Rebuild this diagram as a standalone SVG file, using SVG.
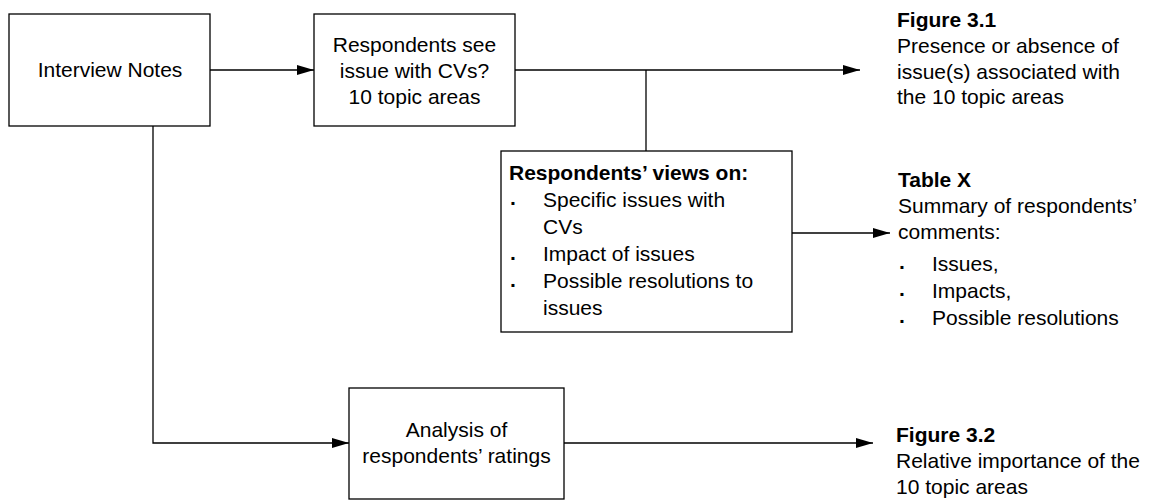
<svg xmlns="http://www.w3.org/2000/svg" width="1164" height="502" viewBox="0 0 1164 502">
<style>
text{font-family:"Liberation Sans",Arial,sans-serif;font-size:21px;fill:#000}
.b{font-weight:bold}
.c{text-anchor:middle}
.d{font-weight:bold}
.box{fill:#fff;stroke:#000;stroke-width:1.3}
.ln{fill:none;stroke:#000;stroke-width:1.3}
</style>
<defs>
<marker id="arr" markerUnits="userSpaceOnUse" markerWidth="18" markerHeight="10" refX="17" refY="5" orient="auto">
<path d="M0,0 L17,5 L0,10 Z" fill="#000"/>
</marker>
</defs>
<rect width="1164" height="502" fill="#fff"/>
<g id="connectors">
<line class="ln" x1="210" y1="70" x2="314" y2="70" marker-end="url(#arr)"/>
<line class="ln" x1="515" y1="70" x2="860" y2="70" marker-end="url(#arr)"/>
<line class="ln" x1="646" y1="70" x2="646" y2="151"/>
<line class="ln" x1="792" y1="233" x2="890" y2="233" marker-end="url(#arr)"/>
<path class="ln" d="M153,126 V443 H349" marker-end="url(#arr)"/>
<line class="ln" x1="564" y1="443" x2="873" y2="443" marker-end="url(#arr)"/>
</g>
<g id="interview-notes">
<rect class="box" x="9" y="14" width="201" height="112"/>
<text class="c" x="110" y="77">Interview Notes</text>
</g>
<g id="respondents-see">
<rect class="box" x="314" y="14" width="201" height="112"/>
<text class="c" x="414.5" y="52">Respondents see</text>
<text class="c" x="414.5" y="78">issue with CVs?</text>
<text class="c" x="414.5" y="104">10 topic areas</text>
</g>
<g id="views">
<rect class="box" x="501" y="151" width="291" height="181"/>
<text class="b" x="509" y="180">Respondents’ views on:</text>
<text class="d" x="510" y="209.5">·</text><text x="543" y="206.5">Specific issues with</text>
<text x="543" y="233.5">CVs</text>
<text class="d" x="510" y="265">·</text><text x="543" y="260.5">Impact of issues</text>
<text class="d" x="510" y="292">·</text><text x="543" y="287.5">Possible resolutions to</text>
<text x="543" y="315">issues</text>
</g>
<g id="analysis">
<rect class="box" x="349" y="388" width="215" height="111"/>
<text class="c" x="456.5" y="437">Analysis of</text>
<text class="c" x="456.5" y="463">respondents’ ratings</text>
</g>
<g id="figure-3-1">
<text class="b" x="897" y="27">Figure 3.1</text>
<text x="897" y="53">Presence or absence of</text>
<text x="897" y="79">issue(s) associated with</text>
<text x="897" y="104">the 10 topic areas</text>
</g>
<g id="table-x">
<text class="b" x="898" y="187">Table X</text>
<text x="898" y="213">Summary of respondents’</text>
<text x="898" y="239">comments:</text>
<text class="d" x="899" y="273.5">·</text><text x="932" y="271">Issues,</text>
<text class="d" x="899" y="301">·</text><text x="932" y="298">Impacts,</text>
<text class="d" x="899" y="328">·</text><text x="932" y="325">Possible resolutions</text>
</g>
<g id="figure-3-2">
<text class="b" x="896" y="442">Figure 3.2</text>
<text x="896" y="468">Relative importance of the</text>
<text x="896" y="494">10 topic areas</text>
</g>
</svg>
